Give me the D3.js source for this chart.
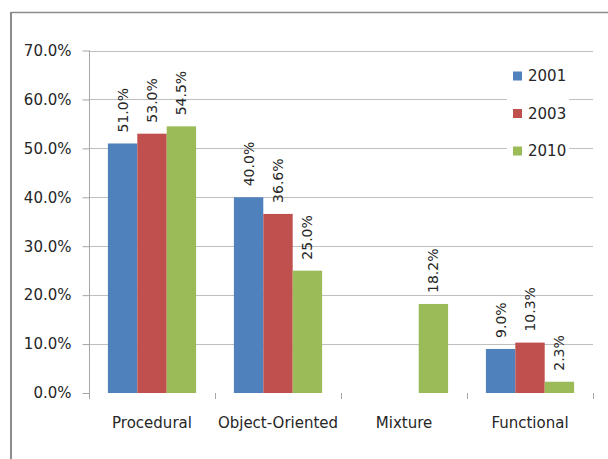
<!DOCTYPE html>
<html>
<head>
<meta charset="utf-8">
<script src="https://cdn.jsdelivr.net/npm/d3@7"></script>
<style>
  html, body { margin: 0; padding: 0; background: #fff; }
  svg { display: block; }
  text { font-family: "DejaVu Sans", sans-serif; fill: #262626; }
</style>
</head>
<body>
<svg id="chart" width="608" height="459"></svg>
<script>
// Paradigm shares by survey year
const categories = ["Procedural", "Object-Oriented", "Mixture", "Functional"];
const years = ["2001", "2003", "2010"];
const values2001 = [0.510, 0.400, null, 0.090];
const values2003 = [0.530, 0.366, null, 0.103];
const values2010 = [0.545, 0.250, 0.182, 0.023];
const yTicks = [0, 0.1, 0.2, 0.3, 0.4, 0.5, 0.6, 0.7];
const colors = ["#4F81BD", "#C0504D", "#9BBB59"];

const seriesValues = [values2001, values2003, values2010];

const svg = d3.select("#chart");

// outer frame (top and left edges)
svg.append("line").attr("x1", 11).attr("x2", 608).attr("y1", 12.5).attr("y2", 12.5)
  .attr("stroke", "#8c8c8c").attr("stroke-width", 1.5);
svg.append("line").attr("x1", 11).attr("x2", 11).attr("y1", 12).attr("y2", 459)
  .attr("stroke", "#8c8c8c").attr("stroke-width", 2);

const plot = { left: 89, right: 593, top: 50.5, bottom: 393 };

const x = d3.scaleBand().domain(categories).range([plot.left, plot.right]).padding(0);
const xs = d3.scaleBand().domain(years)
  .range([x.bandwidth() * 0.15, x.bandwidth() * 0.85]).padding(0);
const y = d3.scaleLinear().domain([0, 0.7]).range([plot.bottom, plot.top]);

// horizontal gridlines
svg.append("g").selectAll("line").data(yTicks.filter(d => d > 0)).join("line")
  .attr("x1", plot.left).attr("x2", plot.right)
  .attr("y1", d => Math.round(y(d)) + 0.5).attr("y2", d => Math.round(y(d)) + 0.5)
  .attr("stroke", "#bfbfbf").attr("stroke-width", 1);

// y axis
const yAxis = d3.axisLeft(y).tickValues(yTicks).tickFormat(d3.format(".1%"))
  .tickSize(7).tickPadding(11);
const gy = svg.append("g").attr("transform", `translate(${plot.left + 0.5},0)`).call(yAxis);
gy.select(".domain").remove();
gy.selectAll(".tick line").attr("stroke", "#a6a6a6");
gy.selectAll(".tick text").attr("font-size", 15).attr("font-family", "DejaVu Sans, sans-serif")
  .attr("fill", "#262626");
svg.append("line").attr("x1", plot.left + 0.5).attr("x2", plot.left + 0.5)
  .attr("y1", plot.top).attr("y2", plot.bottom + 6).attr("stroke", "#a6a6a6");

// category boundary ticks
const bounds = categories.map(c => x(c)).concat([plot.right]);
svg.append("g").selectAll("line").data(bounds.slice(1)).join("line")
  .attr("x1", d => Math.round(d) + 0.5).attr("x2", d => Math.round(d) + 0.5)
  .attr("y1", plot.bottom).attr("y2", plot.bottom + 6)
  .attr("stroke", "#a6a6a6");

// category labels
svg.append("g").selectAll("text").data(categories).join("text")
  .attr("x", d => x(d) + x.bandwidth() / 2).attr("y", 427.5)
  .attr("text-anchor", "middle").attr("font-size", 15).text(d => d);

// bars and value labels
const fmt = d3.format(".1%");
years.forEach((yr, i) => {
  const data = categories.map((c, j) => ({ c, v: seriesValues[i][j] })).filter(d => d.v !== null);
  const g = svg.append("g");
  g.selectAll("rect").data(data).join("rect")
    .attr("x", d => x(d.c) + xs(yr)).attr("width", xs.bandwidth())
    .attr("y", d => y(d.v)).attr("height", d => y(0) - y(d.v))
    .attr("fill", colors[i]);
  g.selectAll("text").data(data).join("text")
    .attr("transform", d => `translate(${x(d.c) + xs(yr) + xs.bandwidth() / 2},${y(d.v) - 11}) rotate(-90)`)
    .attr("dy", "0.36em").attr("font-size", 14).attr("text-anchor", "start")
    .text(d => fmt(d.v));
});

// legend
const legend = svg.append("g");
legend.append("rect").attr("x", 507).attr("y", 58).attr("width", 62).attr("height", 110).attr("fill", "#fff");
years.forEach((yr, i) => {
  const cy = 76 + i * 37.5;
  legend.append("rect").attr("x", 513).attr("y", cy - 4.5).attr("width", 9).attr("height", 9)
    .attr("fill", colors[i]);
  legend.append("text").attr("x", 528).attr("y", cy).attr("dy", "0.36em")
    .attr("font-size", 15).text(yr);
});
</script>
</body>
</html>
